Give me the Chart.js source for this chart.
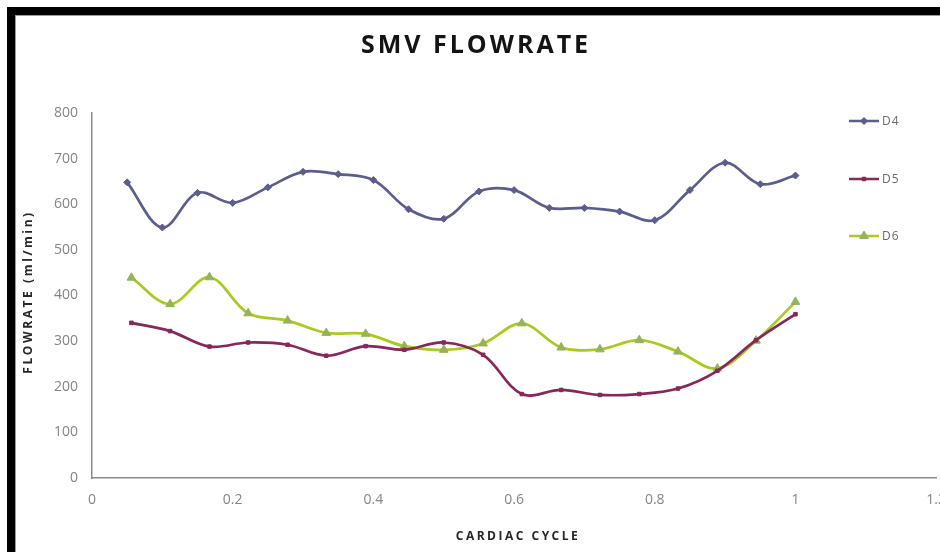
<!DOCTYPE html>
<html>
<head>
<meta charset="utf-8">
<script src="https://cdn.jsdelivr.net/npm/chart.js@4/dist/chart.umd.min.js"></script>
<style>
  html, body { margin: 0; padding: 0; background: #fff; overflow: hidden; }
  #wrap { position: absolute; left: 0; top: 0; width: 960px; height: 552px; }
  #frame {
    position: absolute; left: 7px; top: 7px; width: 960px; height: 560px;
    border-left: 8px solid #000; border-top: 8px solid #000;
    box-shadow: inset 1px 1px 0 #9a9a9a; pointer-events: none;
  }
</style>
</head>
<body>
<div id="wrap">
  <canvas id="chart" width="960" height="552"></canvas>
  <div id="frame"></div>
</div>
<script>
// Cardiac cycle positions and SMV flow rates (ml/min)
const d4Cycle = [0.05, 0.10, 0.15, 0.20, 0.25, 0.30, 0.35, 0.40, 0.45, 0.50,
                 0.55, 0.60, 0.65, 0.70, 0.75, 0.80, 0.85, 0.90, 0.95, 1.00];
const d4Flow  = [648, 549, 625, 603, 637, 671, 666, 653, 589, 568,
                 628, 631, 592, 592, 584, 565, 631, 691, 644, 663];

const d56Cycle = [0.056, 0.111, 0.167, 0.222, 0.278, 0.333, 0.389, 0.444, 0.500,
                  0.556, 0.611, 0.667, 0.722, 0.778, 0.833, 0.889, 0.944, 1.000];
const d5Flow = [340, 322, 288, 297, 292, 268, 289, 281, 297,
                270, 184, 193, 182, 184, 196, 235, 302, 359];
const d6Flow = [439, 381, 440, 361, 345, 318, 316, 289, 281,
                295, 339, 286, 282, 302, 277, 240, 301, 386];

const seriesNames = ['D4', 'D5', 'D6'];
const xTickLabels = ['0', '0.2', '0.4', '0.6', '0.8', '1', '1.2'];
const yTickLabels = ['0', '100', '200', '300', '400', '500', '600', '700', '800'];

const chartTitle = 'SMV FLOWRATE';
const xTitle = 'CARDIAC CYCLE';
const yTitle = 'FLOWRATE (ml/min)';

const pairs = (xs, ys) => xs.map((x, i) => ({ x: x, y: ys[i] }));

const styles = [
  { line: '#5c5d8f', point: '#5c5d8f', shape: 'rectRot', r: 3.5 },
  { line: '#87275a', point: '#87275a', shape: 'rect', r: 2.5 },
  { line: '#a9ca1f', point: '#94b35a', shape: 'triangle', r: 5 }
];

const datasets = [d4Flow, d5Flow, d6Flow].map((vals, i) => ({
  label: seriesNames[i],
  data: pairs(i === 0 ? d4Cycle : d56Cycle, vals),
  borderColor: styles[i].line,
  backgroundColor: styles[i].point,
  pointBorderColor: styles[i].point,
  pointBackgroundColor: styles[i].point,
  pointStyle: styles[i].shape,
  pointRadius: styles[i].r,
  pointBorderWidth: 1,
  borderWidth: 2.7,
  tension: 0.35,
  fill: false
}));

// Titles, axis captions and the side legend
const decorations = {
  id: 'decorations',
  afterDraw(chart) {
    const ctx = chart.ctx;
    ctx.save();
    ctx.fillStyle = '#141414';
    ctx.textAlign = 'center';
    ctx.textBaseline = 'middle';
    ctx.font = 'bold 25px "Open Sans"';
    ctx.letterSpacing = '3px';
    ctx.fillText(chartTitle, 476, 46);

    ctx.fillStyle = '#262626';
    ctx.font = 'bold 12px "Open Sans"';
    ctx.letterSpacing = '2.5px';
    ctx.fillText(xTitle, 518, 537);

    ctx.save();
    ctx.translate(29, 292);
    ctx.rotate(-Math.PI / 2);
    ctx.letterSpacing = '2.6px';
    ctx.fillText(yTitle, 0, 0);
    ctx.restore();

    // legend entries
    ctx.letterSpacing = '1px';
    ctx.font = '12px "Open Sans"';
    ctx.textAlign = 'left';
    const legendY = [121, 179, 236];
    chart.data.datasets.forEach((ds, i) => {
      const y = legendY[i];
      ctx.strokeStyle = ds.borderColor;
      ctx.lineWidth = 2.5;
      ctx.beginPath();
      ctx.moveTo(849, y);
      ctx.lineTo(879, y);
      ctx.stroke();
      ctx.fillStyle = ds.pointBackgroundColor;
      ctx.strokeStyle = ds.pointBorderColor;
      ctx.lineWidth = 1;
      Chart.helpers.drawPoint(ctx, { pointStyle: ds.pointStyle, radius: ds.pointRadius, borderWidth: 1 }, 864, y);
      ctx.fillStyle = '#6a6a6a';
      ctx.fillText(ds.label, 882, y + 1);
    });
    ctx.restore();
  }
};

new Chart(document.getElementById('chart'), {
  type: 'line',
  data: { datasets: datasets },
  plugins: [decorations],
  options: {
    responsive: false,
    animation: false,
    events: [],
    layout: { padding: { left: 20, right: 22, top: 113, bottom: 0 } },
    plugins: {
      legend: { display: false },
      title: { display: false },
      tooltip: { enabled: false }
    },
    scales: {
      x: {
        type: 'linear',
        min: 0,
        max: 1.2,
        afterFit(scale) { scale.height = 74; },
        grid: { display: true, drawOnChartArea: false, drawTicks: false },
        border: { display: true, color: '#8c8c8c', width: 1.5 },
        afterBuildTicks(scale) {
          scale.ticks = xTickLabels.map(t => ({ value: parseFloat(t) }));
        },
        ticks: {
          padding: 14,
          color: '#858585',
          font: { family: '"Open Sans"', size: 14 },
          maxRotation: 0,
          autoSkip: false,
          callback: (v, i) => xTickLabels[i]
        }
      },
      y: {
        min: 0,
        max: 800,
        afterFit(scale) { scale.width = 72; },
        grid: { display: true, drawOnChartArea: false, drawTicks: false },
        border: { display: true, color: '#8c8c8c', width: 1.5 },
        afterBuildTicks(scale) {
          scale.ticks = yTickLabels.map(t => ({ value: parseFloat(t) }));
        },
        ticks: {
          padding: 14,
          color: '#858585',
          font: { family: '"Open Sans"', size: 14 },
          autoSkip: false,
          callback: (v, i) => yTickLabels[i]
        }
      }
    }
  }
});
</script>
</body>
</html>
